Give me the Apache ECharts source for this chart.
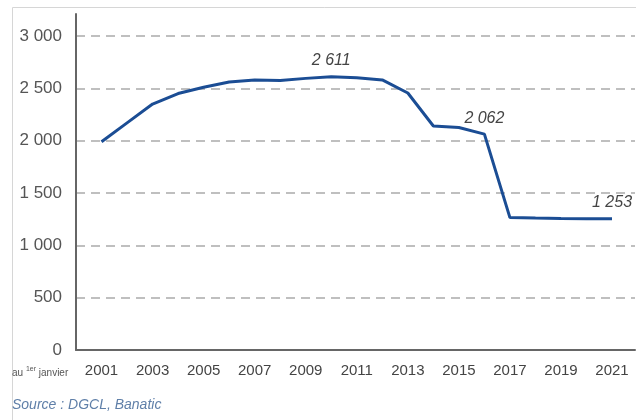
<!DOCTYPE html>
<html>
<head>
<meta charset="utf-8">
<script src="https://cdn.jsdelivr.net/npm/echarts@6/dist/echarts.min.js"></script>
<style>
  html, body { margin: 0; padding: 0; background: #fff; }
  #chart { width: 636px; height: 420px; }
</style>
</head>
<body>
<div id="chart"></div>
<script>
// Nombre de syndicats au 1er janvier
const years = [2001, 2002, 2003, 2004, 2005, 2006, 2007, 2008, 2009, 2010, 2011,
               2012, 2013, 2014, 2015, 2016, 2017, 2018, 2019, 2020, 2021];
const counts = [1990, 2170, 2350, 2450, 2510, 2560, 2580, 2575, 2595, 2611, 2600,
                2580, 2455, 2140, 2125, 2062, 1265, 1260, 1257, 1255, 1253];
const labelledYears = [2010, 2016, 2021];
const yTicks = [0, 500, 1000, 1500, 2000, 2500, 3000];

function fmt(v) {
  return String(Math.round(v)).replace(/\B(?=(\d{3})+(?!\d))/g, ' ');
}

const seriesData = years.map((y, i) => {
  const item = { value: [y, counts[i]] };
  if (labelledYears.includes(y)) {
    item.label = { show: true };
  }
  return item;
});

const chart = echarts.init(document.getElementById('chart'));
chart.setOption({
  animation: false,
  backgroundColor: '#fff',
  grid: { left: 76, right: 1, top: 14, bottom: 70, containLabel: false },
  xAxis: {
    type: 'value',
    min: 2000,
    max: 2021.9,
    interval: 1,
    axisLine: { show: true, onZero: false, lineStyle: { color: '#666', width: 2 } },
    axisTick: { show: false },
    splitLine: { show: false },
    axisLabel: {
      showMaxLabel: false,
      showMinLabel: false,
      margin: 13,
      color: '#444',
      fontFamily: 'Liberation Sans, Arial, sans-serif',
      fontSize: 15,
      formatter: v => (years.includes(v) && (v - years[0]) % 2 === 0) ? String(v) : ''
    }
  },
  yAxis: {
    type: 'value',
    min: 0,
    max: 3210,
    interval: 500,
    axisLine: { show: true, lineStyle: { color: '#666', width: 2 } },
    axisTick: { show: false },
    splitLine: {
      show: true,
      showMaxLine: false,
      showMinLine: false,
      lineStyle: { color: '#aaa', type: [9, 6], width: 1.5 }
    },
    axisLabel: {
      showMaxLabel: false,
      margin: 14,
      color: '#555',
      fontFamily: 'Liberation Sans, Arial, sans-serif',
      fontSize: 17,
      formatter: v => yTicks.includes(v) ? fmt(v) : ''
    }
  },
  series: [{
    type: 'line',
    data: seriesData,
    showSymbol: true,
    symbol: 'circle',
    symbolSize: 0,
    itemStyle: { color: '#1b4d94' },
    lineStyle: { color: '#1b4d94', width: 3 },
    label: {
      show: false,
      position: 'top',
      distance: 8,
      color: '#444',
      fontStyle: 'italic',
      fontFamily: 'Liberation Sans, Arial, sans-serif',
      fontSize: 16,
      formatter: p => fmt(p.value[1])
    }
  }],
  graphic: [
    {
      type: 'rect',
      shape: { x: 12.5, y: 7.5, width: 800, height: 600 },
      style: { fill: 'none', stroke: '#d6d6d6', lineWidth: 1 },
      silent: true
    },
    {
      type: 'text',
      left: 12,
      top: 366,
      style: {
        text: '{n|au }{s|1er}{n| janvier}',
        rich: {
          n: { fontSize: 10, fill: '#555', fontFamily: 'Liberation Sans, Arial, sans-serif', verticalAlign: 'bottom', lineHeight: 12 },
          s: { fontSize: 7, fill: '#555', fontFamily: 'Liberation Sans, Arial, sans-serif', verticalAlign: 'top', lineHeight: 12 }
        }
      }
    },
    {
      type: 'text',
      left: 12,
      top: 398,
      style: {
        text: 'Source : DGCL, Banatic',
        fill: '#5f7fa8',
        fontStyle: 'italic',
        fontSize: 14,
        fontFamily: 'Liberation Sans, Arial, sans-serif'
      }
    }
  ]
});
</script>
</body>
</html>
